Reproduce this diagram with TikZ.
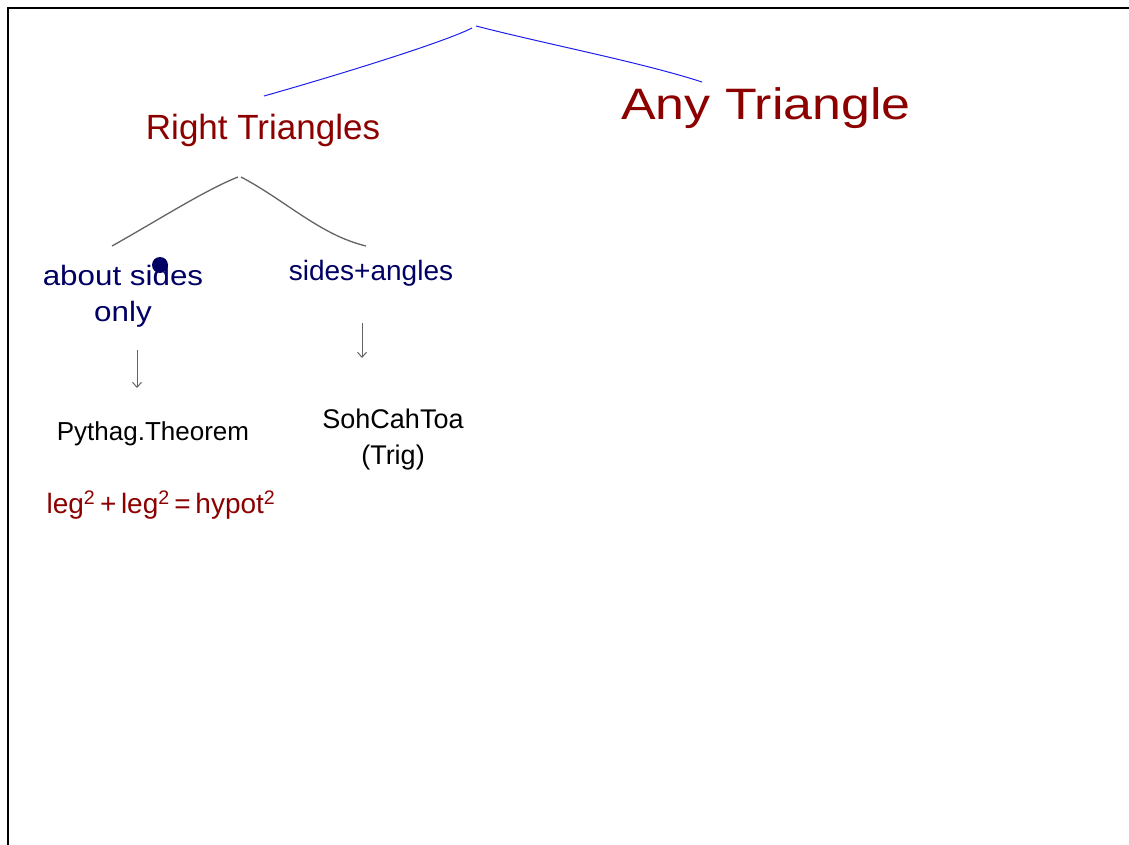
\documentclass[tikz,border=0pt]{standalone}
\usepackage{fontspec}
\setmainfont{Liberation Sans}
\usetikzlibrary{arrows.meta}
\definecolor{dred}{RGB}{140,0,0}
\definecolor{navy}{RGB}{0,0,100}
\definecolor{pblue}{RGB}{30,30,240}
\definecolor{pgray}{RGB}{100,100,100}
\begin{document}
\begin{tikzpicture}[x=1pt,y=-1pt,
  lbl/.style={inner sep=0pt, anchor=center},
  title/.style={lbl, text=dred},
  sub/.style={lbl, text=navy, align=center},
  blk/.style={lbl, text=black, align=center},
  bluebranch/.style={draw=pblue, line width=1pt},
  graybranch/.style={draw=pgray, line width=1.3pt},
  downarrow/.style={draw=pgray, line width=1pt, -{Straight Barb[length=5pt,width=9pt]}}]
\useasboundingbox (0,0) rectangle (1129,845);
\fill[white] (0,0) rectangle (1129,845);
% frame
\draw[black, line width=2pt] (1129,8) -- (8,8) -- (8,845);
% top branch
\coordinate (rootL) at (472,28);
\coordinate (rootR) at (476,26);
\coordinate (rtTop) at (264,96);
\coordinate (atTop) at (702,82);
\node[title, font=\fontsize{35}{40}\selectfont] (rt) at (263,130) {Right Triangles};
\node[title, font=\fontsize{44}{48}\selectfont, xscale=1.18] (at) at (766,108) {Any Triangle};
\draw[bluebranch] (rtTop) .. controls (335,76) and (445,42) .. (rootL);
\draw[bluebranch] (rootR) .. controls (550,45) and (640,62) .. (atTop);
% second level
\coordinate (gL) at (238,177);
\coordinate (gR) at (241,177);
\coordinate (asTop) at (112,246);
\coordinate (saTop) at (366,246);
\draw[graybranch] (asTop) .. controls (155,222) and (205,190) .. (gL);
\draw[graybranch] (gR) .. controls (285,200) and (320,235) .. (saTop);
\node[sub, font=\fontsize{28}{36}\selectfont, xscale=1.12] (as) at (123,296) {about sides\\only};
\node[sub, font=\fontsize{28}{32}\selectfont] (sa) at (371,273) {sides+angles};
\fill[navy] (160,265) circle (8);
% arrows
\coordinate (a1s) at (137,350);
\coordinate (a1e) at (137,388);
\coordinate (a2s) at (362,323);
\coordinate (a2e) at (362,358);
\draw[downarrow] (a1s) -- (a1e);
\draw[downarrow] (a2s) -- (a2e);
% third level
\node[blk, font=\fontsize{26}{30}\selectfont] (py) at (153,434) {Pythag.Theorem};
\node[blk, font=\fontsize{27}{36}\selectfont] (sct) at (393,440) {SohCahToa\\(Trig)};
\node[lbl, text=dred, font=\fontsize{28}{32}\selectfont] (eq) at (161,505) {leg\textsuperscript{2}\,+\,leg\textsuperscript{2}\,=\,hypot\textsuperscript{2}};
\end{tikzpicture}
\end{document}
